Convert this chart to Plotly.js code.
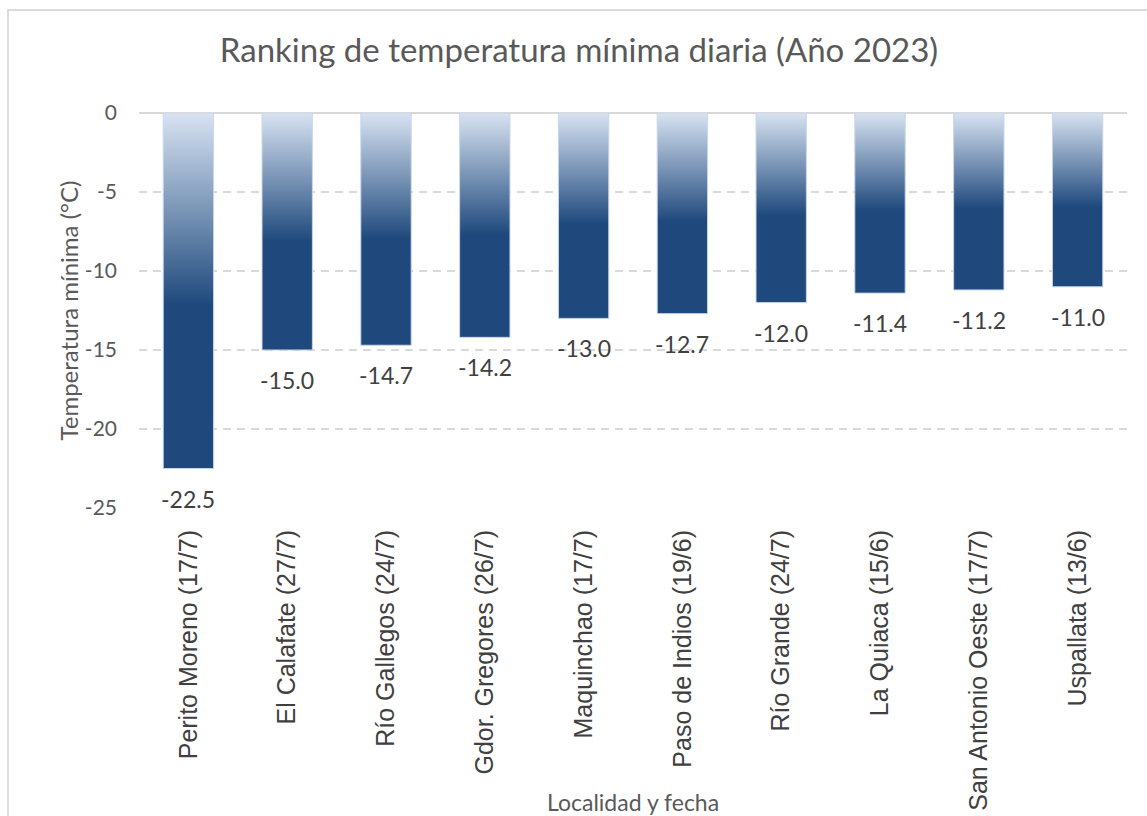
<!DOCTYPE html>
<html>
<head>
<meta charset="utf-8">
<script src="https://cdn.plot.ly/plotly-3.0.1.min.js"></script>
<style>
  html, body { margin: 0; padding: 0; background: #ffffff; }
  #chart { position: absolute; left: 0; top: 0; width: 1147px; height: 816px; }
  #frame { position: absolute; left: 7px; top: 9px; width: 1200px; height: 900px;
           border-top: 2px solid #dcdcdc; border-left: 2px solid #dcdcdc; pointer-events: none; z-index: 5; }
</style>
</head>
<body>
<div id="chart"></div>
<div id="frame"></div>
<script>
const categories = [
  "Perito Moreno (17/7)", "El Calafate (27/7)", "Río Gallegos (24/7)",
  "Gdor. Gregores (26/7)", "Maquinchao (17/7)", "Paso de Indios (19/6)",
  "Río Grande (24/7)", "La Quiaca (15/6)", "San Antonio Oeste (17/7)", "Uspallata (13/6)"
];
const minTemps = [-22.5, -15.0, -14.7, -14.2, -13.0, -12.7, -12.0, -11.4, -11.2, -11.0];
const yTickValues = [0, -5, -10, -15, -20, -25];

const sans = "Lato, 'Open Sans', sans-serif";
const arial = "'Liberation Sans', Arial, sans-serif";

const trace = {
  type: "bar",
  x: categories,
  y: minTemps,
  marker: { color: "#1f497d", line: { color: "#c9d6ea", width: 1 } },
  hoverinfo: "x+y"
};

const labelAnnotations = categories.map((c, i) => ({
  x: c, y: minTemps[i], xref: "x", yref: "y",
  text: minTemps[i].toFixed(1),
  showarrow: false, yanchor: "middle", yshift: -30,
  font: { family: sans, size: 23, color: "#404040" }
}));

const layout = {
  width: 1147, height: 816,
  margin: { l: 139, r: 20, t: 113, b: 308 },
  paper_bgcolor: "#ffffff", plot_bgcolor: "#ffffff",
  showlegend: false,
  bargap: 0.49,
  title: {
    text: "Ranking de temperatura mínima diaria (Año 2023)",
    font: { family: sans, size: 33, color: "#595959" },
    x: 579 / 1147, xref: "container", xanchor: "center",
    y: 1 - 50 / 816, yref: "container", yanchor: "middle"
  },
  xaxis: {
    type: "category",
    tickangle: -90,
    tickfont: { family: arial, size: 25, color: "#404040" },
    ticklabelstandoff: 16,
    showgrid: false, zeroline: false, showline: false, ticks: ""
  },
  yaxis: {
    range: [-25, 0],
    tickvals: yTickValues,
    ticktext: yTickValues.map(v => String(v)),
    tickfont: { family: sans, size: 21, color: "#595959" },
    ticklabelstandoff: 21,
    ticks: "",
    showgrid: true, gridcolor: "#d9d9d9", gridwidth: 1.5, griddash: "8px,6px",
    zeroline: true, zerolinecolor: "#d9d9d9", zerolinewidth: 2,
    showline: false,
    title: { text: "Temperatura mínima (°C)", font: { family: sans, size: 24, color: "#595959" } }
  },
  annotations: labelAnnotations.concat([{
    text: "Localidad y fecha", xref: "paper", yref: "paper",
    x: 0.5, y: -(802 - 508) / 395, xanchor: "center", yanchor: "middle",
    showarrow: false, font: { family: sans, size: 23, color: "#595959" }
  }])
};

Plotly.newPlot("chart", [trace], layout, { displayModeBar: false, staticPlot: true }).then(gd => {
  const svgNS = "http://www.w3.org/2000/svg";
  const svg = gd.querySelector("svg.main-svg");
  let defs = svg.querySelector("defs");
  if (!defs) { defs = document.createElementNS(svgNS, "defs"); svg.insertBefore(defs, svg.firstChild); }
  const grad = document.createElementNS(svgNS, "linearGradient");
  grad.setAttribute("id", "barGrad");
  grad.setAttribute("x1", "0"); grad.setAttribute("y1", "0");
  grad.setAttribute("x2", "0"); grad.setAttribute("y2", "1");
  [["0", "#d8e3f2"], ["0.54", "#1f497d"], ["1", "#1f497d"]].forEach(([o, c]) => {
    const s = document.createElementNS(svgNS, "stop");
    s.setAttribute("offset", o); s.setAttribute("stop-color", c);
    grad.appendChild(s);
  });
  defs.appendChild(grad);
  gd.querySelectorAll(".bars .point path").forEach(p => { p.style.fill = "url(#barGrad)"; });
});
</script>
</body>
</html>
